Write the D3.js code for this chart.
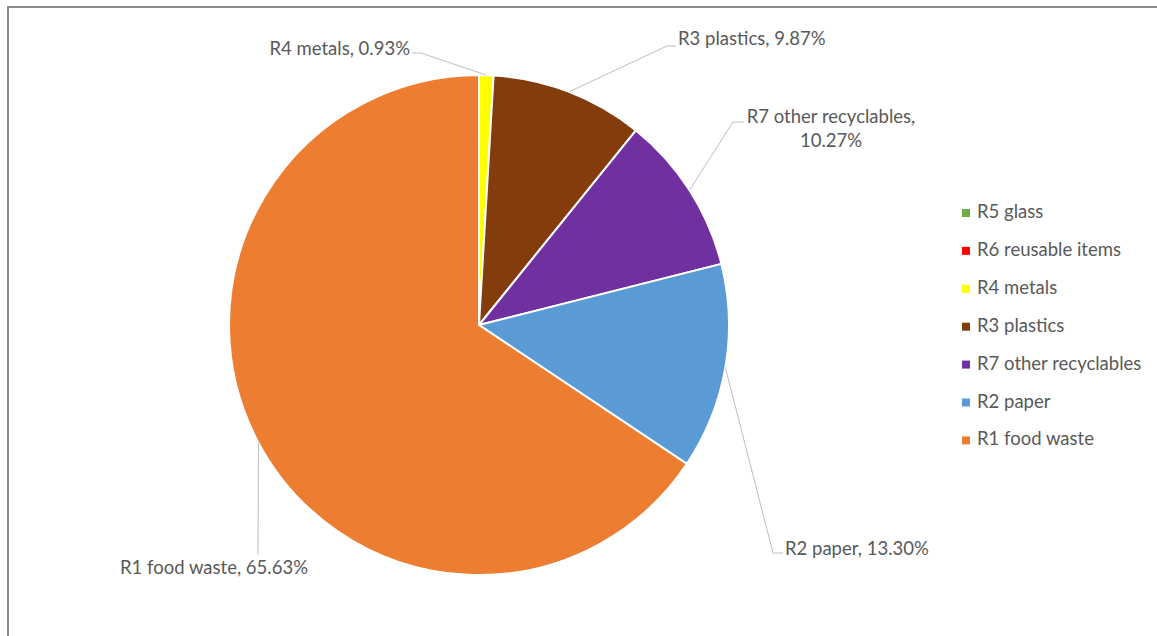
<!DOCTYPE html>
<html>
<head>
<meta charset="utf-8">
<script src="https://cdn.jsdelivr.net/npm/d3@7"></script>
<style>
  html, body { margin: 0; padding: 0; background: #fff; overflow: hidden; }
  svg { display: block; font-family: Lato, "Open Sans", sans-serif; }
</style>
</head>
<body>
<svg id="chart" width="1157" height="636"></svg>
<script>
// Recyclable waste composition (share of total, %)
const categories = ["R5 glass", "R6 reusable items", "R4 metals", "R3 plastics",
                    "R7 other recyclables", "R2 paper", "R1 food waste"];
const shares = [0, 0, 0.93, 9.87, 10.27, 13.30, 65.63];
const sliceColors = ["#70AD47", "#FF0000", "#FFFF00", "#843C0C", "#7030A0", "#5B9BD5", "#ED7D31"];

// Data-label placement: text anchor and leader elbow for each labelled slice
const labelLayout = {
  "R4 metals":            { x: 410, y: 55,  anchor: "end",    elbow: [421, 53], end: [412, 53] },
  "R3 plastics":          { x: 678, y: 45,  anchor: "start",  elbow: [667, 46], end: [676, 46] },
  "R7 other recyclables": { x: 831, y: 123, anchor: "middle", elbow: [733, 122], end: [744, 122], wrap: true },
  "R2 paper":             { x: 785, y: 555, anchor: "start",  elbow: [773, 553], end: [783, 553] },
  "R1 food waste":        { x: 214, y: 574, anchor: "middle", elbow: [258, 555], end: [258, 555] }
};

const svg = d3.select("#chart");
const textColor = "#595959";
const fontSize = 18.5;

// Chart area frame
svg.append("rect")
  .attr("x", 8).attr("y", 7)
  .attr("width", 1300).attr("height", 800)
  .attr("fill", "none")
  .attr("stroke", "#8a8a8a")
  .attr("stroke-width", 2);

const cx = 479, cy = 325, radius = 250;

const pie = d3.pie().sort(null).value(d => d.value)
  .startAngle(0).endAngle(2 * Math.PI);
const arc = d3.arc().innerRadius(0).outerRadius(radius);

const data = categories.map((c, i) => ({ name: c, value: shares[i], color: sliceColors[i] }));
const arcs = pie(data);

const g = svg.append("g").attr("transform", `translate(${cx},${cy})`);

g.selectAll("path.slice")
  .data(arcs)
  .join("path")
  .attr("class", "slice")
  .attr("d", arc)
  .attr("fill", d => d.data.color)
  .attr("stroke", "#fff")
  .attr("stroke-width", 2)
  .attr("stroke-linejoin", "round");

// Leader lines from the middle of each slice's outer edge to its label
const labelled = arcs.filter(d => d.data.value > 0 && labelLayout[d.data.name]);

labelled.forEach(d => {
  const L = labelLayout[d.data.name];
  const mid = (d.startAngle + d.endAngle) / 2;
  const sx = cx + radius * Math.sin(mid);
  const sy = cy - radius * Math.cos(mid);
  svg.append("polyline")
    .attr("points", [[sx, sy], L.elbow, L.end].map(p => p.join(",")).join(" "))
    .attr("fill", "none")
    .attr("stroke", "#bfbfbf")
    .attr("stroke-width", 1);

  const pct = d.data.value.toFixed(2) + "%";
  const t = svg.append("text")
    .attr("x", L.x).attr("y", L.y)
    .attr("text-anchor", L.anchor)
    .attr("fill", textColor)
    .attr("font-size", fontSize);
  if (L.wrap) {
    t.append("tspan").attr("x", L.x).text(d.data.name + ",");
    t.append("tspan").attr("x", L.x).attr("dy", 24).text(pct);
  } else {
    t.text(d.data.name + ", " + pct);
  }
});

// Legend
const legendX = 962, legendY = 218, legendStep = 37.9;
const legend = svg.append("g");
data.forEach((d, i) => {
  const y = legendY + i * legendStep;
  legend.append("rect")
    .attr("x", legendX).attr("y", y - 9)
    .attr("width", 8).attr("height", 8)
    .attr("fill", d.color);
  legend.append("text")
    .attr("x", legendX + 15).attr("y", y)
    .attr("fill", textColor)
    .attr("font-size", fontSize)
    .text(d.name);
});
</script>
</body>
</html>
